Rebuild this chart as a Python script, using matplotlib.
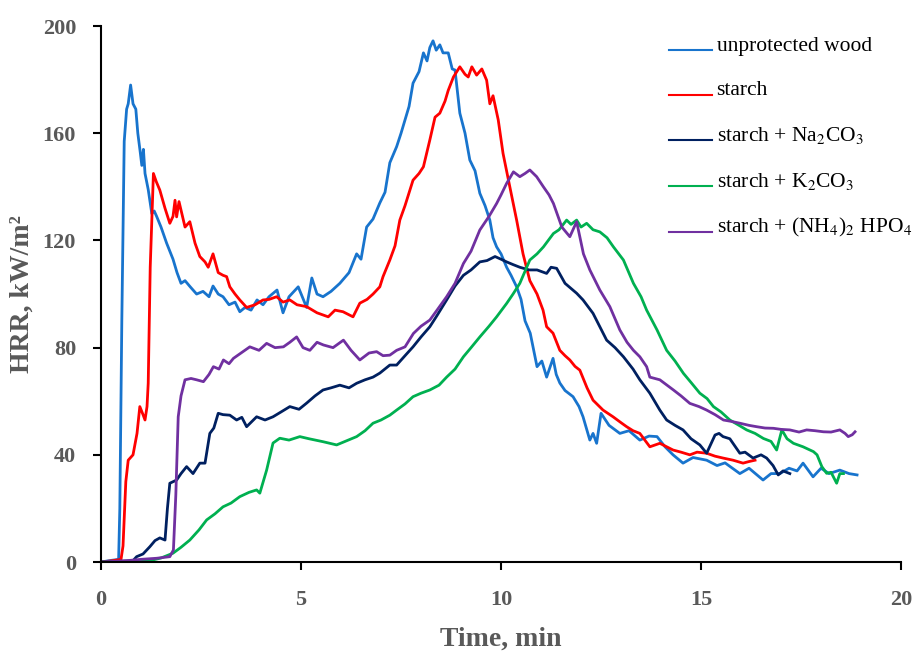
import matplotlib.pyplot as plt

plt.rcParams['font.family'] = ['Liberation Serif', 'DejaVu Serif']
plt.rcParams['mathtext.fontset'] = 'stix'

# HRR curves: (time in min, HRR in kW/m2)
wood = [(0, 0), (0.2, 0.5), (0.44, 1), (0.47, 20), (0.52, 90), (0.58, 157), (0.64, 169),
        (0.68, 171), (0.74, 178), (0.8, 171), (0.87, 169), (0.92, 160), (0.98, 153),
        (1.02, 148), (1.06, 154), (1.1, 145), (1.18, 139), (1.27, 130), (1.33, 131),
        (1.39, 129), (1.5, 125), (1.64, 119), (1.72, 116), (1.8, 113), (1.9, 108), (2.0, 104),
        (2.1, 105), (2.23, 102.7), (2.39, 100), (2.55, 101), (2.7, 99), (2.8, 103), (2.93, 100),
        (3.05, 99), (3.2, 96), (3.35, 97), (3.47, 93.4), (3.6, 95), (3.75, 94), (3.9, 97.8),
        (4.05, 96), (4.2, 99), (4.4, 101.5), (4.55, 93), (4.7, 99), (4.93, 102.7), (5.14, 95),
        (5.27, 106), (5.4, 100), (5.55, 99), (5.75, 101), (5.97, 104), (6.2, 108), (6.39, 115),
        (6.5, 113), (6.64, 125), (6.8, 128), (6.97, 134), (7.1, 138), (7.22, 149), (7.39, 155),
        (7.5, 160), (7.6, 165), (7.7, 170), (7.8, 178.7), (7.95, 183), (8.06, 190), (8.15, 187),
        (8.22, 192), (8.3, 194.5), (8.38, 191), (8.47, 193), (8.55, 190), (8.68, 190),
        (8.78, 184), (8.85, 183.6), (8.97, 167.5), (9.1, 160), (9.22, 150), (9.35, 146),
        (9.47, 137.6), (9.6, 133), (9.72, 127.6), (9.8, 121), (9.89, 117.6), (10.0, 115),
        (10.14, 110), (10.25, 107), (10.39, 102.7), (10.5, 98), (10.6, 90), (10.73, 85.4),
        (10.9, 72.9), (11.02, 75), (11.14, 69), (11.3, 76), (11.38, 70), (11.47, 66.8),
        (11.6, 64), (11.8, 61.7), (11.95, 58), (12.05, 54.2), (12.22, 45.5), (12.3, 48),
        (12.39, 44.3), (12.5, 55.5), (12.7, 51), (12.97, 48), (13.2, 49), (13.47, 45.5),
        (13.7, 47), (13.9, 46.8), (14.1, 43), (14.3, 40), (14.55, 36.9), (14.8, 39),
        (15.14, 38), (15.4, 36), (15.6, 37), (15.97, 33), (16.2, 35), (16.55, 30.6),
        (16.75, 33), (16.97, 33), (17.2, 35), (17.4, 34), (17.55, 36.9), (17.8, 31.8),
        (18.0, 35), (18.2, 33), (18.47, 34.3), (18.7, 33), (18.9, 32.5)]

starch = [(0, 0), (0.3, 0.5), (0.5, 1), (0.55, 6), (0.62, 30), (0.68, 38), (0.8, 40),
          (0.9, 48), (0.97, 58), (1.05, 55), (1.1, 53), (1.15, 58), (1.18, 66.7), (1.23, 110),
          (1.31, 145), (1.38, 142), (1.47, 138.8), (1.6, 132), (1.72, 126.4), (1.8, 129),
          (1.85, 135), (1.89, 128.8), (1.95, 134.5), (2.1, 125), (2.22, 127), (2.35, 119),
          (2.47, 114), (2.6, 112), (2.68, 110), (2.8, 115), (2.93, 108), (3.05, 107),
          (3.14, 106.5), (3.22, 102.7), (3.35, 100), (3.47, 97.8), (3.64, 95), (3.85, 96),
          (4.05, 97.8), (4.2, 98), (4.39, 99), (4.55, 97), (4.72, 97.8), (4.9, 96), (5.14, 95.3),
          (5.4, 93), (5.68, 91.5), (5.85, 94), (6.05, 93.4), (6.3, 91.5), (6.47, 96.6),
          (6.65, 98), (6.8, 100), (6.97, 102.7), (7.05, 106.5), (7.22, 112.7), (7.35, 118),
          (7.47, 127.6), (7.6, 133), (7.8, 142.5), (7.95, 145), (8.06, 147.5), (8.22, 157.5),
          (8.35, 166), (8.47, 167.5), (8.6, 172), (8.68, 176), (8.81, 181), (8.97, 184.8),
          (9.1, 182), (9.18, 181), (9.27, 184.8), (9.39, 181.7), (9.52, 184), (9.64, 179.8),
          (9.72, 171), (9.8, 174), (9.93, 165), (10.05, 152.5), (10.22, 140), (10.39, 127.6),
          (10.55, 115), (10.72, 105), (10.9, 100), (11.05, 94), (11.14, 87.8), (11.3, 85.4),
          (11.47, 79), (11.6, 77), (11.72, 75.4), (11.85, 73), (11.97, 71.6), (12.15, 65),
          (12.3, 60.4), (12.55, 56.7), (12.8, 54.2), (13.0, 52), (13.14, 50.5), (13.3, 49),
          (13.47, 48), (13.72, 43), (13.97, 44.3), (14.3, 41.8), (14.5, 41), (14.72, 40),
          (14.9, 41), (15.14, 40.6), (15.35, 39.5), (15.55, 38.8), (15.8, 38), (16.05, 36.9),
          (16.2, 37.5), (16.35, 38)]

na2co3 = [(0, 0), (0.5, 0.3), (0.8, 0.5), (0.89, 2), (1.05, 3), (1.22, 5.7), (1.35, 8),
          (1.47, 9), (1.6, 8.2), (1.66, 20), (1.72, 29.4), (1.89, 30.6), (2.0, 33), (2.14, 35.6),
          (2.3, 33), (2.47, 36.9), (2.6, 36.9), (2.72, 48), (2.82, 50), (2.93, 55.5), (3.05, 55),
          (3.22, 54.8), (3.39, 53), (3.52, 54), (3.64, 50.5), (3.89, 54.2), (4.1, 53),
          (4.3, 54.2), (4.5, 56), (4.72, 58), (4.95, 57), (5.14, 59.3), (5.35, 62), (5.55, 64.2),
          (5.75, 65), (5.97, 66), (6.2, 65), (6.39, 66.7), (6.6, 68), (6.8, 69), (6.97, 70.5),
          (7.22, 73.5), (7.39, 73.5), (7.6, 77), (7.8, 80.3), (8.0, 84), (8.22, 87.8),
          (8.4, 92), (8.64, 97.8), (8.85, 103), (9.06, 107), (9.25, 109), (9.47, 112),
          (9.65, 112.5), (9.85, 114), (10.0, 113), (10.14, 112), (10.3, 111), (10.47, 110),
          (10.7, 109), (10.9, 109), (11.14, 107.7), (11.25, 110), (11.39, 109.6), (11.6, 104),
          (11.89, 100.3), (12.05, 97.8), (12.3, 92.8), (12.64, 82.8), (12.85, 80),
          (13.06, 76.6), (13.3, 72), (13.47, 68), (13.72, 63), (13.97, 56.7), (14.14, 53),
          (14.35, 51), (14.55, 49.3), (14.75, 46), (14.97, 43.7), (15.14, 40.6), (15.35, 47.4),
          (15.45, 48), (15.55, 46.8), (15.72, 46), (15.97, 40.6), (16.1, 41), (16.3, 38.8),
          (16.5, 40), (16.64, 38.8), (16.8, 36), (16.93, 32.5), (17.05, 34), (17.22, 33)]

k2co3 = [(0, 0), (0.5, 0), (1.0, 0.2), (1.22, 0.5), (1.5, 1.5), (1.8, 3.3), (2.0, 5.5),
         (2.22, 8.2), (2.45, 12), (2.64, 15.7), (2.85, 18), (3.05, 20.6), (3.25, 22),
         (3.47, 24.4), (3.7, 26), (3.89, 26.9), (3.97, 25.7), (4.14, 34.3), (4.3, 44.4),
         (4.47, 46.2), (4.7, 45.5), (4.97, 46.8), (5.2, 46), (5.55, 44.9), (5.89, 43.7),
         (6.1, 45), (6.39, 46.8), (6.6, 49), (6.8, 51.8), (7.0, 53), (7.22, 54.8), (7.39, 56.7),
         (7.6, 59), (7.8, 61.7), (8.0, 63), (8.22, 64.2), (8.45, 66), (8.64, 69), (8.85, 72),
         (9.06, 76.6), (9.25, 80), (9.47, 84), (9.7, 88), (9.89, 91.5), (10.14, 96.5),
         (10.3, 100), (10.47, 104), (10.72, 112.7), (10.9, 115), (11.06, 117.6), (11.31, 122.6),
         (11.45, 124), (11.64, 127.6), (11.75, 126), (11.89, 127.6), (12.0, 125), (12.14, 126.4),
         (12.3, 124), (12.47, 123.2), (12.65, 121), (12.81, 117.6), (13.06, 112.7), (13.31, 104),
         (13.5, 99), (13.64, 94), (13.9, 86.6), (14.14, 79), (14.35, 75), (14.56, 70.4),
         (14.75, 67), (14.97, 63), (15.15, 61), (15.31, 58), (15.5, 56), (15.72, 53), (15.95, 51),
         (16.14, 49.3), (16.35, 48), (16.56, 46.1), (16.75, 45), (16.89, 41.8), (17.02, 49.3),
         (17.15, 46), (17.31, 44.3), (17.55, 43), (17.81, 41.2), (17.9, 40), (18.02, 35.6),
         (18.14, 33.1), (18.25, 33.5), (18.39, 29.4), (18.47, 33), (18.56, 33)]

nh4hpo4 = [(0, 0), (0.64, 0.5), (1.0, 1), (1.39, 1.4), (1.72, 2), (1.81, 4.5), (1.87, 25),
           (1.93, 54.2), (2.0, 62), (2.1, 68), (2.25, 68.5), (2.39, 68), (2.56, 67.3), (2.7, 70),
           (2.81, 72.9), (2.95, 72), (3.06, 75.4), (3.2, 74), (3.31, 76), (3.5, 78), (3.72, 80.3),
           (3.95, 79), (4.14, 81.6), (4.35, 80), (4.56, 80.3), (4.72, 82), (4.89, 84), (5.05, 80),
           (5.22, 79), (5.4, 82), (5.56, 81), (5.8, 80), (6.06, 82.8), (6.25, 79), (6.47, 75.4),
           (6.7, 78), (6.89, 78.5), (7.05, 77), (7.22, 77.2), (7.39, 79), (7.6, 80.3),
           (7.81, 85.3), (8.0, 88), (8.22, 90.3), (8.4, 94), (8.64, 99), (8.85, 104),
           (9.06, 111.4), (9.25, 116), (9.47, 123.9), (9.7, 129), (9.89, 133.8), (10.0, 137),
           (10.14, 141.3), (10.31, 145.6), (10.47, 143.8), (10.6, 145), (10.72, 146.3),
           (10.89, 143.8), (11.06, 140), (11.2, 137), (11.31, 133.8), (11.52, 125), (11.72, 121.4),
           (11.89, 127), (12.06, 115), (12.22, 109), (12.47, 101.5), (12.72, 95.3), (12.97, 86.6),
           (13.15, 82), (13.31, 79), (13.47, 76.6), (13.64, 72.9), (13.72, 69), (13.97, 68),
           (14.31, 64.2), (14.5, 62), (14.72, 59.2), (14.95, 58), (15.14, 56.7), (15.35, 55),
           (15.56, 53), (15.75, 52.5), (15.97, 51.8), (16.2, 51), (16.39, 50.5), (16.6, 50),
           (16.81, 49.9), (17.0, 49.5), (17.22, 49.3), (17.45, 48.5), (17.64, 49.3), (17.85, 49),
           (18.06, 48.6), (18.25, 48.5), (18.47, 49.3), (18.6, 48), (18.68, 46.8), (18.78, 47.5),
           (18.85, 48.6)]

labels = ['unprotected wood', 'starch', r'starch + Na$_2$CO$_3$', r'starch + K$_2$CO$_3$',
          r'starch + (NH$_4$)$_2$ HPO$_4$']
colors = ['#1874CD', '#FF0000', '#002060', '#00B050', '#7030A0']
series = [wood, starch, na2co3, k2co3, nh4hpo4]

fig = plt.figure(figsize=(9.2, 6.52), dpi=100)
ax = fig.add_axes([0.1098, 0.138, 0.8696, 0.822])

for pts, c, lab in zip(series, colors, labels):
    t, y = zip(*pts)
    ax.plot(t, y, color=c, lw=2.0, label=lab)

ax.set_xlim(0, 20)
ax.set_ylim(0, 200)
ax.set_xticks([0, 5, 10, 15, 20])
ax.set_yticks([0, 40, 80, 120, 160, 200])
for s in ['top', 'right']:
    ax.spines[s].set_visible(False)
for s in ['left', 'bottom']:
    ax.spines[s].set_linewidth(1.5)
ax.tick_params(axis='both', direction='out', length=6, width=1.5, labelsize=16,
               labelcolor='#595959')
ax.tick_params(axis='x', pad=14)
ax.tick_params(axis='y', pad=12)
for lbl in ax.get_xticklabels() + ax.get_yticklabels():
    lbl.set_fontweight('bold')

ax.set_xlabel('Time, min', fontsize=20, fontweight='bold', color='#595959', labelpad=12)
ax.set_ylabel('HRR, kW/m²', fontsize=20, fontweight='bold', color='#595959', labelpad=6)

leg = ax.legend(loc='upper left', bbox_to_anchor=(0.686, 1.018), frameon=False,
                fontsize=15.5, handlelength=2.0, handletextpad=0.2, labelspacing=1.14)
# legend samples sit low, like an underline next to the text
for h in leg.get_lines():
    h.set_linewidth(1.5)
    h.set_ydata([v - 5 for v in h.get_ydata()])

fig.savefig('out.png', dpi=100)
